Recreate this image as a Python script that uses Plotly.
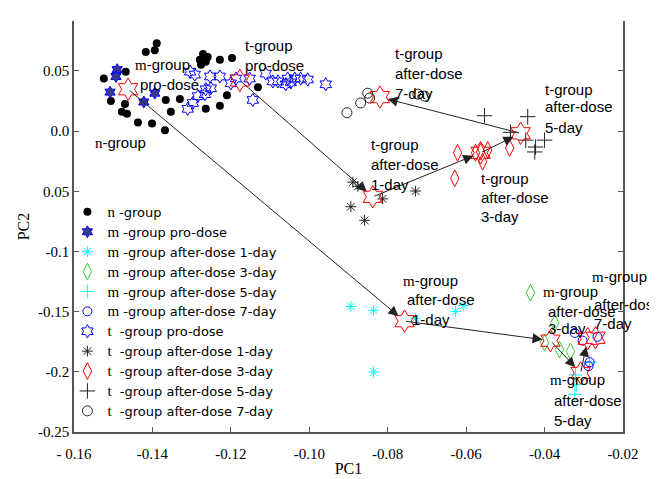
import plotly.graph_objects as go

# ---------------- data ----------------
n_x = [-0.1389, -0.1394, -0.1417, -0.1271, -0.1259, -0.1279, -0.1264, -0.1228, -0.1197, -0.1276,
       -0.1468, -0.1524, -0.1506, -0.1470, -0.1478, -0.1465, -0.1437, -0.1401, -0.1368, -0.1366,
       -0.1330, -0.1353, -0.1264, -0.1228, -0.1210, -0.1131]
n_y = [0.0730, 0.0673, 0.0657, 0.0641, 0.0616, 0.0592, 0.0576, 0.0592, 0.0608, 0.0551,
       0.0494, 0.0437, 0.0250, 0.0226, 0.0161, 0.0145, 0.0072, 0.0063, 0.0007, 0.0259,
       0.0267, 0.0161, 0.0185, 0.0210, 0.0299, 0.0364]

m_pro_x = [-0.1490, -0.1493, -0.1508, -0.1394, -0.1422]
m_pro_y = [0.0511, 0.0454, 0.0324, 0.0315, 0.0242]

m1_x = [-0.0894, -0.0836, -0.0836, -0.0627, -0.0606, -0.0729]
m1_y = [-0.1457, -0.1489, -0.2002, -0.1498, -0.1449, -0.1554]

m3_x = [-0.0436, -0.0374, -0.0400, -0.0362, -0.0334]
m3_y = [-0.1343, -0.1595, -0.1758, -0.1815, -0.1831]

m5_x = [-0.0321, -0.0318, -0.0323, -0.0285]
m5_y = [-0.2026, -0.2107, -0.2188, -0.1920]

m7_x = [-0.0323, -0.0265, -0.0303, -0.0285, -0.0288]
m7_y = [-0.1677, -0.1709, -0.1741, -0.1920, -0.1953]

t_pro_x = [-0.1304, -0.1292, -0.1253, -0.1228, -0.1264, -0.1251, -0.1266, -0.1284, -0.1297, -0.1310,
           -0.1200, -0.1187, -0.1152, -0.1111, -0.1093, -0.1080, -0.1060, -0.1055, -0.1037, -0.1022,
           -0.1004, -0.1047, -0.1144, -0.0958]
t_pro_y = [0.0494, 0.0470, 0.0454, 0.0454, 0.0348, 0.0356, 0.0307, 0.0291, 0.0234, 0.0185,
           0.0397, 0.0437, 0.0437, 0.0478, 0.0413, 0.0413, 0.0389, 0.0437, 0.0437, 0.0437,
           0.0429, 0.0405, 0.0259, 0.0389]

t1_x = [-0.0889, -0.0813, -0.0729, -0.0894, -0.0859, -0.0876]
t1_y = [-0.0424, -0.0563, -0.0498, -0.0628, -0.0741, -0.0459]

t3_x = [-0.0622, -0.0629, -0.0576, -0.0563, -0.0545, -0.0558, -0.0489]
t3_y = [-0.0180, -0.0392, -0.0180, -0.0172, -0.0156, -0.0254, -0.0140]

t5_x = [-0.0553, -0.0443, -0.0400, -0.0423, -0.0425, -0.0487, -0.0448]
t5_y = [0.0128, 0.0120, -0.0075, -0.0132, -0.0173, -0.0010, -0.0075]

t7_x = [-0.0904, -0.0869, -0.0851, -0.0846, -0.0723, -0.0706]
t7_y = [0.0153, 0.0234, 0.0315, 0.0275, 0.0307, 0.0291]

# group centroids (red stars)
cent_names = ["m0", "m1", "m3", "m5", "m7", "m7b", "t0", "t1", "t3", "t5", "t7"]
cent_x = [-0.1462, -0.0757, -0.0385, -0.0308, -0.0290, -0.0270, -0.1177, -0.0838, -0.0563, -0.0461, -0.0820]
cent_y = [0.0348, -0.1579, -0.1741, -0.2010, -0.1725, -0.1717, 0.0421, -0.0546, -0.0180, -0.0018, 0.0283]

# trajectories between centroids
m_path = ["m0", "m1", "m3", "m5", "m7"]
t_path = ["t0", "t1", "t3", "t5", "t7"]

x_tickvals = [-0.16, -0.14, -0.12, -0.10, -0.08, -0.06, -0.04, -0.02]
x_ticktext = ["- 0.16", "-0.14", "-0.12", "-0.10", "-0.08", "-0.06", "-0.04", "-0.02"]
y_tickvals = [0.05, 0.0, -0.05, -0.1, -0.15, -0.2, -0.25]
y_ticktext = ["0.05", "0.0", "0.05", "-0.1", "-0.15", "-0.2", "-0.25"]

# ---------------- figure ----------------
SERIF = "Liberation Serif"
SANS = "Liberation Sans"


def mname(letter, rest):
    return "<span style='font-family:Liberation Serif;font-size:15px'>%s</span>%s" % (letter, rest)


NB = "\u00a0"
series = [
    (mname("n", " -group"), n_x, n_y, dict(symbol="circle", size=8, color="black")),
    (mname("m", " -group pro-dose"), m_pro_x, m_pro_y,
     dict(symbol="hexagram", size=9, color="#3a3a8a", line=dict(color="blue", width=1))),
    (mname("m", " -group after-dose 1-day"), m1_x, m1_y,
     dict(symbol="asterisk-open", size=9, color="cyan", line=dict(color="cyan", width=1))),
    (mname("m", " -group after-dose 3-day"), m3_x, m3_y,
     dict(symbol="diamond-tall-open", size=12, color="#33cc33", line=dict(color="#33cc33", width=1))),
    (mname("m", " -group after-dose 5-day"), m5_x, m5_y,
     dict(symbol="cross-thin-open", size=10, color="cyan", line=dict(color="cyan", width=1))),
    (mname("m", " -group after-dose 7-day"), m7_x, m7_y,
     dict(symbol="circle-open", size=9, color="blue", line=dict(color="blue", width=1))),
    (mname("t", NB + " -group pro-dose"), t_pro_x, t_pro_y,
     dict(symbol="hexagram-open", size=10, color="blue", line=dict(color="blue", width=1))),
    (mname("t", NB + " -group after-dose 1-day"), t1_x, t1_y,
     dict(symbol="asterisk-open", size=9, color="#222", line=dict(color="#222", width=1))),
    (mname("t", NB + " -group after-dose 3-day"), t3_x, t3_y,
     dict(symbol="diamond-tall-open", size=12, color="red", line=dict(color="red", width=1))),
    (mname("t", NB + " -group after-dose 5-day"), t5_x, t5_y,
     dict(symbol="cross-thin-open", size=11, color="#222", line=dict(color="#222", width=1))),
    (mname("t", NB + " -group after-dose 7-day"), t7_x, t7_y,
     dict(symbol="circle-open", size=10, color="#222", line=dict(color="#222", width=1))),
]

fig = go.Figure()
for name, xs, ys, mk in series:
    fig.add_trace(go.Scatter(x=xs, y=ys, mode="markers", name=name, marker=mk))

fig.add_trace(go.Scatter(
    x=cent_x, y=cent_y, mode="markers", showlegend=False,
    marker=dict(symbol="hexagram-open", size=17, color="red", line=dict(color="red", width=1)),
))

cidx = {n: i for i, n in enumerate(cent_names)}
annotations = []
for path in (m_path, t_path):
    for a, b in zip(path[:-1], path[1:]):
        annotations.append(dict(
            x=cent_x[cidx[b]], y=cent_y[cidx[b]], ax=cent_x[cidx[a]], ay=cent_y[cidx[a]],
            xref="x", yref="y", axref="x", ayref="y", text="", showarrow=True,
            arrowhead=2, arrowsize=2, arrowwidth=1, arrowcolor="#222", standoff=8,
        ))

# text labels (one entry per line, left edge / vertical middle)
labels = [
    (mname("m", "-group"), -0.1450, 0.0551), ("pro-dose", -0.1437, 0.0389),
    ("t-group", -0.1169, 0.0714), ("pro-dose", -0.1169, 0.0543),
    (mname("n", "-group"), -0.1552, -0.0091),
    ("t-group", -0.0787, 0.0649), ("after-dose", -0.0787, 0.0478), ("7-day", -0.0787, 0.0315),
    ("t-group", -0.0405, 0.0348), ("after-dose", -0.0405, 0.0202), ("5-day", -0.0405, 0.0031),
    ("t-group", -0.0848, -0.0107), ("after-dose", -0.0848, -0.0278), ("1-day", -0.0848, -0.0441),
    ("t-group", -0.0566, -0.0392), ("after-dose", -0.0566, -0.0554), ("3-day", -0.0566, -0.0709),
    (mname("m", "-group"), -0.0767, -0.1245), ("after-dose", -0.0757, -0.1400), ("1-day", -0.0744, -0.1563),
    (mname("m", "-group"), -0.0410, -0.1335), ("after-dose", -0.0397, -0.1498), ("3-day", -0.0397, -0.1644),
    (mname("m", "-group"), -0.0285, -0.1205), ("after-dose", -0.0280, -0.1441), ("7-day", -0.0278, -0.1595),
    (mname("m", "-group"), -0.0392, -0.2067), ("after-dose", -0.0382, -0.2237), ("5-day", -0.0380, -0.2408),
]
for txt, lx, ly in labels:
    annotations.append(dict(
        x=lx, y=ly, xref="x", yref="y", text=txt, showarrow=False,
        xanchor="left", yanchor="middle", font=dict(family=SANS, size=15, color="black"),
    ))

axis_common = dict(
    showgrid=False, zeroline=False, showline=True, linecolor="#555", linewidth=1.5,
    ticks="inside", ticklen=5, tickcolor="#555", tickwidth=1.2,
    tickfont=dict(family=SERIF, size=15, color="black"),
)

fig.update_layout(
    width=657, height=479, autosize=False,
    margin=dict(l=66, r=42, t=13, b=45),
    paper_bgcolor="white", plot_bgcolor="white",
    xaxis=dict(range=[-0.16, -0.02], tickvals=x_tickvals, ticktext=x_ticktext,
               title=dict(text="PC1", font=dict(family=SERIF, size=16, color="black"), standoff=2),
               ticklabelstandoff=7, **axis_common),
    yaxis=dict(range=[-0.25, 0.0915], tickvals=y_tickvals, ticktext=y_ticktext, mirror="ticks",
               title=dict(text="PC2", font=dict(family=SERIF, size=16, color="black"), standoff=4),
               **axis_common),
    legend=dict(x=-0.012, y=0.572, xanchor="left", yanchor="top", bgcolor="rgba(0,0,0,0)",
                borderwidth=0, font=dict(family="DejaVu Sans", size=13, color="black"),
                tracegroupgap=0),
    annotations=annotations,
    showlegend=True,
)

fig.write_html("out.html")
